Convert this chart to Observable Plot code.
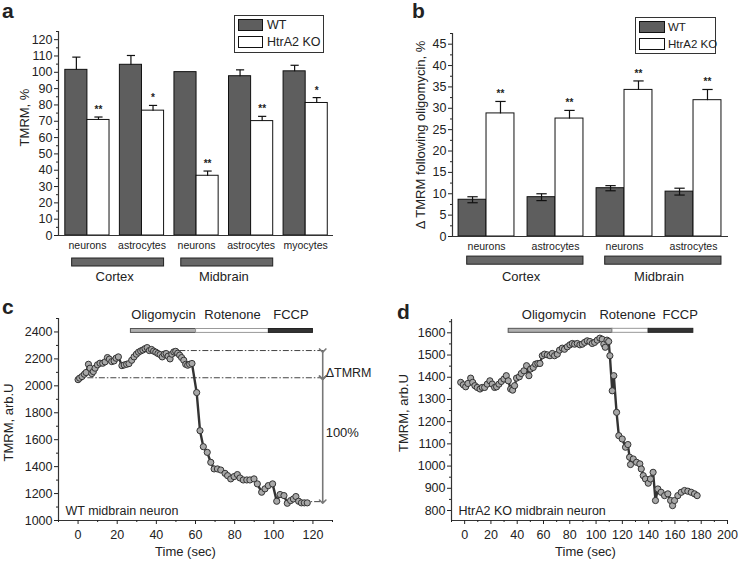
<!DOCTYPE html>
<html><head><meta charset="utf-8">
<script src="https://cdn.jsdelivr.net/npm/d3@7"></script>
<script src="https://cdn.jsdelivr.net/npm/@observablehq/plot@0.6"></script>
<style>
body{margin:0;background:#fff;}
#fig{position:relative;width:738px;height:562px;overflow:hidden;font-family:"Liberation Sans",Arial,sans-serif;color:#222;background:#fff;}
.panel{position:absolute;}
.plabel{position:absolute;font-weight:bold;font-size:21px;line-height:1;}
.legend{position:absolute;border:1px solid #333;background:#fff;box-sizing:border-box;}
.legend .row{position:absolute;left:0;right:0;display:flex;align-items:center;white-space:nowrap;}
.legend .sw{display:inline-block;border:1px solid #111;box-sizing:border-box;flex:none;}
</style></head>
<body><div id="fig"></div>
<script>
// ---------- data ----------
const seriesKeys = ["WT", "HtrA2 KO"];
const seriesFill = ["#5e5e5e", "#ffffff"];

// panel a
const aLabels = ["neurons", "astrocytes", "neurons", "astrocytes", "myocytes"];
const aWT = [101.5, 104.6, 100.1, 97.6, 100.6];
const aWTerr = [7.8, 5.7, 0, 3.9, 3.7];
const aKO = [70.8, 76.5, 36.6, 70.1, 81.2];
const aKOerr = [1.8, 3.2, 2.9, 2.9, 3.3];
const aStars = ["**", "*", "**", "**", "*"];
const aRegions = ["Cortex", "Midbrain"];
const aRegionFrom = [0, 2];
const aRegionTo = [1, 3];

// panel b
const bLabels = ["neurons", "astrocytes", "neurons", "astrocytes"];
const bWT = [8.6, 9.2, 11.3, 10.5];
const bWTerr = [0.7, 0.8, 0.6, 0.8];
const bKO = [28.8, 27.6, 34.3, 31.9];
const bKOerr = [2.8, 1.9, 2.1, 2.5];
const bStars = ["**", "**", "**", "**"];
const bRegions = ["Cortex", "Midbrain"];
const bRegionFrom = [0, 2];
const bRegionTo = [1, 3];

// panel c: WT midbrain neuron trace
const cTime = [0,0.8,2.0,3.2,4.1,5.3,6.1,7.0,7.8,8.7,9.9,11.2,12.6,13.8,15.0,16.0,17.2,18.4,19.4,20.6,22.4,23.6,24.8,26.0,27.4,28.6,29.8,30.9,32.0,33.1,34.2,35.3,36.4,37.5,38.6,39.7,40.8,41.9,43.0,44.0,45.0,46.0,47.0,47.9,48.9,49.9,50.9,51.9,52.9,54.0,55.0,56.0,57.0,58.2,60.6,62.3,64.0,66.0,67.8,69.5,71.2,72.9,75.1,76.4,78.0,79.7,81.4,82.7,84.4,86.2,87.8,89.9,91.6,93.8,95.5,97.2,99.4,101.5,103.2,105.2,106.9,108.6,110.0,111.3,112.7,114.1,115.6,117.1];
const cTMRM = [2046,2057,2069,2086,2099,2160,2131,2091,2106,2131,2156,2168,2168,2178,2210,2198,2180,2185,2205,2215,2150,2155,2160,2165,2190,2215,2235,2250,2259,2266,2276,2284,2262,2270,2258,2250,2240,2232,2215,2235,2240,2220,2200,2235,2252,2256,2242,2228,2210,2190,2160,2153,2160,2166,1950,1667,1548,1506,1432,1383,1383,1375,1350,1333,1309,1326,1341,1316,1301,1301,1301,1309,1272,1210,1235,1259,1272,1143,1193,1185,1128,1148,1160,1178,1143,1131,1131,1131];
const cDrugs = ["Oligomycin", "Rotenone", "FCCP"];
const cDrugStart = [27, 60.3, 97.5];
const cDrugEnd = [60.3, 97.5, 120];
const cLevels = [2262, 2060, 1140];       // peak, baseline, floor (arb.U)
const cLevelFrom = [52, 5, 115];

// panel d: HtrA2 KO midbrain neuron trace
const dTime = [-3.0,-1.0,0.8,2.5,4.6,6.1,7.8,9.6,11.7,13.4,15.2,17.2,19.2,21.0,22.8,24.3,26.1,27.9,29.9,31.7,33.2,35.0,36.5,38.0,39.5,41.6,43.1,45.1,47.1,48.9,50.2,52.2,54.0,55.7,57.3,59.1,60.8,62.9,64.9,66.7,68.4,70.5,72.2,74.3,76.0,78.1,80.1,81.9,83.7,85.7,87.7,89.5,91.3,93.3,95.3,97.1,98.9,100.9,102.9,104.7,105.9,107.0,108.3,109.6,110.5,112.3,113.5,115.6,117.3,119.9,122.4,124.2,125.5,126.2,128.3,130.8,133.3,134.4,135.9,137.6,139.7,141.4,143.4,145.2,147.0,149.5,152.1,154.6,156.7,158.2,159.7,162.2,164.8,167.3,169.8,172.4,174.9,176.9];
const dTMRM = [1377,1366,1357,1372,1396,1377,1362,1354,1347,1354,1354,1369,1384,1369,1354,1357,1369,1381,1392,1407,1384,1347,1342,1362,1396,1402,1417,1429,1452,1407,1437,1444,1459,1462,1462,1497,1504,1501,1497,1507,1497,1504,1522,1531,1526,1537,1546,1552,1549,1552,1546,1549,1557,1564,1561,1552,1557,1567,1576,1571,1549,1535,1567,1561,1497,1339,1407,1242,1137,1122,1085,1097,1040,1007,1032,1017,1010,987,957,942,923,942,972,845,897,882,867,875,845,822,845,867,882,890,887,882,875,867];
const dDrugs = ["Oligomycin", "Rotenone", "FCCP"];
const dDrugStart = [33.5, 112.5, 140];
const dDrugEnd = [112.5, 140, 174];
const dDrugLabelAt = [68, 124, 164];

// ---------- helpers ----------
const FONT = '"Liberation Sans", Arial, sans-serif';
const INK = "#222";
const plain = d => String(d);
const baseStyle = {background: "transparent", overflow: "visible", fontFamily: FONT, fontSize: "12px", color: INK};
const fig = document.getElementById("fig");
function place(node, left, top) {
  node.classList.add("panel");
  node.style.left = left + "px";
  node.style.top = top + "px";
  fig.appendChild(node);
}
function panelLabel(t, left, top) {
  const d = document.createElement("div");
  d.className = "plabel"; d.textContent = t;
  d.style.left = left + "px"; d.style.top = top + "px";
  fig.appendChild(d);
}
function legend(left, top, w, h, rows, sw, fs) {
  const box = document.createElement("div");
  box.className = "legend";
  Object.assign(box.style, {left: left + "px", top: top + "px", width: w + "px", height: h + "px", fontSize: fs + "px"});
  seriesKeys.forEach((k, i) => {
    const r = document.createElement("div");
    r.className = "row";
    r.style.top = rows[i] + "px";
    r.style.height = sw.h + "px";
    r.style.paddingLeft = sw.left + "px";
    const s = document.createElement("span");
    s.className = "sw";
    Object.assign(s.style, {width: sw.w + "px", height: sw.h + "px", background: seriesFill[i], marginRight: sw.gap + "px"});
    const t = document.createElement("span");
    t.textContent = k;
    r.appendChild(s); r.appendChild(t);
    box.appendChild(r);
  });
  fig.appendChild(box);
}

function barPanel(o) {
  const hb = 0.405; // half of group width (group units)
  const data = o.labels.map((lab, i) => ({i, lab, wt: o.wt[i], wtErr: o.wtErr[i], ko: o.ko[i], koErr: o.koErr[i], star: o.stars[i]}));
  const regions = o.regions.map((r, k) => ({r, from: o.from[k], to: o.to[k]}));
  const cap = 0.075;
  const wtE = data.filter(d => d.wtErr > 0);
  const wtLow = o.twoSidedWT ? (d => d.wt - d.wtErr) : (d => d.wt);
  return Plot.plot({
    width: o.width, height: o.height,
    marginLeft: o.ml, marginRight: o.mr, marginTop: o.mt, marginBottom: o.mb,
    style: baseStyle,
    x: {domain: o.xdom},
    y: {domain: o.ydom},
    marks: [
      Plot.rect(data, {x1: d => d.i - hb, x2: "i", y1: 0, y2: "wt", fill: seriesFill[0], stroke: "#111", strokeWidth: 1}),
      Plot.rect(data, {x1: "i", x2: d => d.i + hb, y1: 0, y2: "ko", fill: seriesFill[1], stroke: "#111", strokeWidth: 1}),
      Plot.link(wtE, {x1: d => d.i - hb / 2, x2: d => d.i - hb / 2, y1: wtLow, y2: d => d.wt + d.wtErr, stroke: "#111", strokeWidth: 1.2}),
      Plot.link(wtE, {x1: d => d.i - hb / 2 - cap, x2: d => d.i - hb / 2 + cap, y1: d => d.wt + d.wtErr, y2: d => d.wt + d.wtErr, stroke: "#111", strokeWidth: 1.2}),
      ...(o.twoSidedWT ? [Plot.link(wtE, {x1: d => d.i - hb / 2 - cap, x2: d => d.i - hb / 2 + cap, y1: d => d.wt - d.wtErr, y2: d => d.wt - d.wtErr, stroke: "#111", strokeWidth: 1.2})] : []),
      Plot.link(data, {x1: d => d.i + hb / 2, x2: d => d.i + hb / 2, y1: "ko", y2: d => d.ko + d.koErr, stroke: "#111", strokeWidth: 1.2}),
      Plot.link(data, {x1: d => d.i + hb / 2 - cap, x2: d => d.i + hb / 2 + cap, y1: d => d.ko + d.koErr, y2: d => d.ko + d.koErr, stroke: "#111", strokeWidth: 1.2}),
      Plot.text(data, {x: d => d.i + hb / 2, y: d => d.ko + d.koErr, text: "star", dy: -4, lineAnchor: "bottom", fontSize: 10, fontWeight: "bold", fill: INK}),
      Plot.ruleY([o.ydom[0]], {stroke: "#333", strokeWidth: 1.2}),
      Plot.ruleX([o.xdom[0]], {stroke: "#333", strokeWidth: 1.2}),
      Plot.axisY({ticks: o.yMajor, tickSize: 4, tickPadding: 2, tickFormat: plain, label: null, fontSize: 12.5}),
      Plot.axisY({ticks: o.yMinor, tickSize: 2, tickFormat: () => "", label: null}),
      Plot.axisX({ticks: data.map(d => d.i), tickSize: 0, tickPadding: o.xPad, tickFormat: i => o.labels[i], label: null, fontSize: 10.5}),
      Plot.rect(regions, {x1: d => d.from - 0.28, x2: d => d.to + 0.405, y1: o.regY[0], y2: o.regY[1], fill: "#676767", stroke: "#222", strokeWidth: 1}),
      Plot.text(regions, {x: d => (d.from + d.to) / 2, y: o.regY[2], text: "r", fontSize: 13, fill: INK}),
      Plot.text([o.ylabel], {frameAnchor: "left", textAnchor: "middle", rotate: -90, dx: o.ylx, dy: o.yly, fontSize: 13, fill: INK})
    ]
  });
}

function tracePanel(o) {
  const data = o.t.map((t, i) => ({t, v: o.v[i]}));
  const drugs = o.drugs.map((name, i) => ({name, s: o.ds[i], e: o.de[i], lx: o.dl ? o.dl[i] : (o.ds[i] + o.de[i]) / 2}));
  const drugFill = ["#b0b0b0", "#ffffff", "#333333"];
  const drugStroke = ["#555", "#999", "#222"];
  return Plot.plot({
    width: o.width, height: o.height,
    marginLeft: o.ml, marginRight: o.mr, marginTop: o.mt, marginBottom: o.mb,
    style: baseStyle,
    x: {domain: o.xdom},
    y: {domain: o.ydom},
    marks: [
      Plot.ruleY([o.ydom[0]], {stroke: "#333", strokeWidth: 1.2}),
      Plot.ruleX([o.xdom[0]], {stroke: "#333", strokeWidth: 1.2}),
      Plot.axisY({ticks: o.yMajor, tickSize: 4, tickPadding: 2, tickFormat: plain, label: null, fontSize: 12.5}),
      Plot.axisY({ticks: o.yMinor, tickSize: 2, tickFormat: () => "", label: null}),
      Plot.axisX({ticks: o.xMajor, tickSize: 4, tickPadding: 6, tickFormat: plain, label: null, fontSize: 12.5}),
      Plot.axisX({ticks: o.xMinor, tickSize: 2, tickFormat: () => "", label: null}),
      Plot.rect(drugs, {x1: "s", x2: "e", y1: o.drugY[0], y2: o.drugY[1], fill: (d, i) => drugFill[i], stroke: (d, i) => drugStroke[i], strokeWidth: 1}),
      Plot.text(drugs, {x: "lx", y: o.drugY[1], dy: -10, text: "name", lineAnchor: "bottom", fontSize: 13, fill: INK}),
      ...(o.extra || []),
      Plot.line(data, {x: "t", y: "v", stroke: "#333", strokeWidth: 2.4}),
      Plot.dot(data, {x: "t", y: "v", r: 3.1, fill: "#a8a8a8", stroke: "#333", strokeWidth: 1}),
      Plot.text([o.note], {frameAnchor: "bottom-left", dx: o.noteDx, dy: -6, fontSize: 12.5, fill: INK, textAnchor: "start"}),
      Plot.text([o.ylabel], {frameAnchor: "left", textAnchor: "middle", rotate: -90, dx: o.ylx, dy: o.yly, fontSize: 13, fill: INK}),
      Plot.text(["Time (sec)"], {frameAnchor: "bottom", textAnchor: "middle", dx: o.tlx, dy: 35, fontSize: 13, fill: INK})
    ]
  });
}

// ---------- panel a ----------
place(barPanel({
  width: 369, height: 290, ml: 58, mr: 36, mt: 31, mb: 55,
  labels: aLabels, wt: aWT, wtErr: aWTerr, ko: aKO, koErr: aKOerr, stars: aStars,
  regions: aRegions, from: aRegionFrom, to: aRegionTo,
  xdom: [-0.53, 4.51], ydom: [0, 125],
  yMajor: d3.range(0, 121, 10), yMinor: d3.range(5, 126, 10),
  xPad: 6, regY: [-14.1, -19.0, -25.2], twoSidedWT: false,
  ylabel: "TMRM, %", ylx: -34, yly: -16
}), 0, 0);

// ---------- panel b ----------
place(barPanel({
  width: 369, height: 290, ml: 83, mr: 10, mt: 33, mb: 54,
  labels: bLabels, wt: bWT, wtErr: bWTerr, ko: bKO, koErr: bKOerr, stars: bStars,
  regions: bRegions, from: bRegionFrom, to: bRegionTo,
  xdom: [-0.493, 3.507], ydom: [0, 47.5],
  yMajor: d3.range(0, 46, 5), yMinor: d3.range(2.5, 47.6, 5),
  xPad: 6, regY: [-4.7, -6.6, -9.4], twoSidedWT: true,
  ylabel: "Δ TMRM following oligomycin, %", ylx: -32, yly: 0
}), 369, 0);

// ---------- panel d ----------
place(tracePanel({
  width: 369, height: 272, ml: 82, mr: 11, mt: 29, mb: 42,
  t: dTime, v: dTMRM, drugs: dDrugs, ds: dDrugStart, de: dDrugEnd, dl: dDrugLabelAt,
  xdom: [-10, 200], ydom: [755, 1660],
  yMajor: d3.range(800, 1601, 100), yMinor: d3.range(850, 1651, 100),
  xMajor: d3.range(0, 201, 20), xMinor: d3.range(-10, 200, 20),
  drugY: [1600, 1618],
  note: "HtrA2 KO midbrain neuron", noteDx: 7,
  ylabel: "TMRM, arb.U", ylx: -48, yly: -7, tlx: -4
}), 369, 290);

// ---------- panel c ----------
const lvl = cLevels.map((v, i) => ({v, from: cLevelFrom[i]}));
const arrowX = 125;
place(tracePanel({
  width: 369, height: 272, ml: 58, mr: 37, mt: 28, mb: 42,
  t: cTime, v: cTMRM, drugs: cDrugs, ds: cDrugStart, de: cDrugEnd,
  xdom: [-10, 130], ydom: [1000, 2500],
  yMajor: d3.range(1000, 2401, 200), yMinor: d3.range(1100, 2501, 200),
  xMajor: d3.range(0, 121, 20), xMinor: d3.range(-10, 131, 20),
  drugY: [2393, 2422],
  note: "WT midbrain neuron", noteDx: 7,
  ylabel: "TMRM, arb.U", ylx: -50, yly: 3, tlx: -10,
  extra: [
    Plot.ruleY(lvl, {y: "v", x1: "from", x2: arrowX + 1, stroke: "#444", strokeWidth: 1, strokeDasharray: "6,2,1.5,2"}),
    Plot.link([{a: cLevels[0], b: cLevels[1]}, {a: cLevels[1], b: cLevels[2]}], {x1: arrowX, x2: arrowX, y1: "a", y2: "b", stroke: "#777", strokeWidth: 1.6, markerStart: "arrow", markerEnd: "arrow"}),
    Plot.text(["ΔTMRM"], {x: arrowX + 1.5, y: (cLevels[0] + cLevels[1]) / 2 - 65, textAnchor: "start", fontSize: 12.5, fill: INK}),
    Plot.text(["100%"], {x: arrowX + 1.5, y: (cLevels[1] + cLevels[2]) / 2 + 50, textAnchor: "start", fontSize: 13, fill: INK})
  ]
}), 0, 290);

// ---------- legends & panel letters ----------
legend(234, 15, 90, 38, [3, 20], {left: 3, w: 25, h: 12, gap: 4}, 12.5);
legend(635, 17, 81, 37, [3, 20], {left: 3, w: 26, h: 12, gap: 3}, 11.5);
panelLabel("a", 2, 0);
panelLabel("b", 412, 0);
panelLabel("c", 2, 296);
panelLabel("d", 397, 301);
</script>
</body></html>
